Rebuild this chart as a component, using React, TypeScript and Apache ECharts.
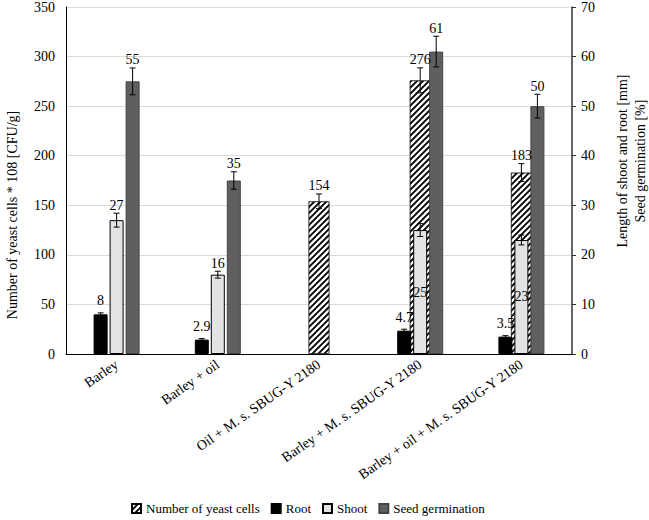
import React, { useEffect, useRef } from 'react';
import * as echarts from 'echarts';

const categories = [
  'Barley',
  'Barley + oil',
  'Oil + M. s. SBUG-Y 2180',
  'Barley + M. s. SBUG-Y 2180',
  'Barley + oil + M. s. SBUG-Y 2180',
];
const yeastCells: (number | null)[] = [null, null, 154, 276, 183];
const yeastErr: (number | null)[] = [null, null, 7.4, 12.6, 9];
const rootLen: (number | null)[] = [8, 2.9, null, 4.7, 3.5];
const rootErr: (number | null)[] = [0.3, 0.2, null, 0.3, 0.2];
const shootLen: (number | null)[] = [27, 16, null, 25, 23];
const shootErr: (number | null)[] = [1.4, 0.7, null, 1.3, 1.0];
const germination: (number | null)[] = [55, 35, null, 61, 50];
const germErr: (number | null)[] = [2.7, 1.75, null, 3.1, 2.4];
const shootInsideLabelIdx = [3, 4];

const leftAxis = { min: 0, max: 350, interval: 50 };
const rightAxis = { min: 0, max: 70, interval: 10 };

const leftTitle = 'Number of yeast cells * 108 [CFU/g]';
const rightTitle = 'Length of shoot and root [mm]\nSeed germination [%]';
const legendNames = ['Number of yeast cells', 'Root', 'Shoot', 'Seed germination'];

const FONT = '"Liberation Serif", "Times New Roman", serif';
const FS = 14;
const BAR_W = 14;
const GAP = 2;

function makeHatch(): HTMLCanvasElement {
  const c = document.createElement('canvas');
  const s = 6;
  c.width = s;
  c.height = s;
  const ctx = c.getContext('2d')!;
  ctx.fillStyle = '#ffffff';
  ctx.fillRect(0, 0, s, s);
  ctx.strokeStyle = '#000000';
  ctx.lineWidth = 1.9;
  ctx.beginPath();
  ctx.moveTo(-1, s + 1);
  ctx.lineTo(s + 1, -1);
  ctx.moveTo(-1, 1);
  ctx.lineTo(1, -1);
  ctx.moveTo(s - 1, s + 1);
  ctx.lineTo(s + 1, s - 1);
  ctx.stroke();
  return c;
}

function errorSeries(
  name: string,
  values: (number | null)[],
  errs: (number | null)[],
  xAxisIndex: number,
  yAxisIndex: number,
  offset: number,
  labelGap: number,
  hideLabel: number[]
) {
  const data: any[] = [];
  values.forEach((v, i) => {
    if (v != null) data.push([i, v, errs[i] ?? 0]);
  });
  return {
    name,
    type: 'custom',
    xAxisIndex,
    yAxisIndex,
    z: 5,
    silent: true,
    data,
    encode: { x: 0, y: 1 },
    renderItem: (params: any, api: any) => {
      const i = api.value(0);
      const v = api.value(1);
      const e = api.value(2);
      const c = api.coord([i, v]);
      const x = c[0] + offset;
      const yTop = api.coord([i, v + e])[1];
      const yBot = api.coord([i, v - e])[1];
      const cap = 3;
      const st = { stroke: '#000', lineWidth: 1 };
      const children: any[] = [
        { type: 'line', shape: { x1: x, y1: yTop, x2: x, y2: yBot }, style: st },
        { type: 'line', shape: { x1: x - cap, y1: yTop, x2: x + cap, y2: yTop }, style: st },
        { type: 'line', shape: { x1: x - cap, y1: yBot, x2: x + cap, y2: yBot }, style: st },
      ];
      if (hideLabel.indexOf(i) < 0) {
        children.push({
          type: 'text',
          x,
          y: yTop - labelGap,
          style: {
            text: String(v),
            align: 'center',
            verticalAlign: 'bottom',
            fontSize: FS,
            fontFamily: FONT,
            fill: '#000',
          },
        });
      }
      return { type: 'group', children };
    },
  };
}

export default function App() {
  const ref = useRef<HTMLDivElement>(null);
  useEffect(() => {
    if (!ref.current) return;
    const chart = echarts.init(ref.current, undefined, { renderer: 'svg' });
    const hatch = makeHatch();
    const hatchFill: any = { image: hatch, repeat: 'repeat', imageWidth: 6, imageHeight: 6 };
    const step = BAR_W + GAP;

    const shootData = shootLen.map((v, i) =>
      shootInsideLabelIdx.indexOf(i) >= 0
        ? {
            value: v,
            label: {
              show: true,
              position: 'inside',
              formatter: '{c}',
              fontSize: FS,
              fontFamily: FONT,
              color: '#000',
            },
          }
        : v
    );

    chart.setOption({
      animation: false,
      backgroundColor: '#ffffff',
      textStyle: { fontFamily: FONT },
      grid: { left: 66, right: 77, top: 7, bottom: 166, containLabel: false },
      legend: {
        data: legendNames,
        left: 131,
        top: 502,
        padding: 0,
        itemWidth: 9,
        itemHeight: 9,
        itemGap: 11,
        icon: 'rect',
        textStyle: { fontSize: 13, fontFamily: FONT, color: '#000' },
      },
      xAxis: [
        {
          type: 'category',
          data: categories,
          position: 'bottom',
          axisLine: { show: true, lineStyle: { color: '#000', width: 1 } },
          axisTick: { show: false },
          axisLabel: {
            interval: 0,
            rotate: 35,
            margin: 9,
            fontSize: FS,
            fontFamily: FONT,
            color: '#000',
          },
        },
        {
          type: 'category',
          data: categories,
          position: 'bottom',
          show: false,
        },
      ],
      yAxis: [
        {
          type: 'value',
          position: 'left',
          min: leftAxis.min,
          max: leftAxis.max,
          interval: leftAxis.interval,
          axisLine: { show: true, lineStyle: { color: '#000', width: 1 } },
          axisTick: { show: false },
          axisLabel: { margin: 11, fontSize: FS, fontFamily: FONT, color: '#000' },
          splitLine: { show: true, lineStyle: { color: '#d9d9d9', width: 1 } },
        },
        {
          type: 'value',
          position: 'right',
          min: rightAxis.min,
          max: rightAxis.max,
          interval: rightAxis.interval,
          axisLine: { show: true, lineStyle: { color: '#333', width: 1.5 } },
          axisTick: { show: true, inside: false, length: 4, lineStyle: { color: '#333' } },
          axisLabel: { margin: 9, fontSize: FS, fontFamily: FONT, color: '#000' },
          splitLine: { show: false },
        },
      ],
      graphic: [
        {
          type: 'text',
          x: 12,
          y: 215,
          rotation: Math.PI / 2,
          style: {
            text: leftTitle,
            align: 'center',
            verticalAlign: 'middle',
            fontSize: FS,
            fontFamily: FONT,
            fill: '#000',
          },
        },
        {
          type: 'text',
          x: 631,
          y: 161,
          rotation: Math.PI / 2,
          style: {
            text: rightTitle,
            align: 'center',
            verticalAlign: 'middle',
            fontSize: FS,
            lineHeight: 18,
            fontFamily: FONT,
            fill: '#000',
          },
        },
      ],
      series: [
        {
          name: 'Number of yeast cells',
          type: 'bar',
          xAxisIndex: 1,
          yAxisIndex: 0,
          barWidth: 21,
          z: 1,
          data: yeastCells,
          itemStyle: { color: hatchFill, borderColor: '#000', borderWidth: 0.8 },
        },
        {
          name: 'Root',
          type: 'bar',
          xAxisIndex: 0,
          yAxisIndex: 1,
          barWidth: BAR_W,
          barGap: `${(GAP / BAR_W) * 100}%`,
          z: 2,
          data: rootLen,
          itemStyle: { color: '#000000', borderColor: '#000', borderWidth: 1 },
        },
        {
          name: 'Shoot',
          type: 'bar',
          xAxisIndex: 0,
          yAxisIndex: 1,
          barWidth: BAR_W,
          barGap: `${(GAP / BAR_W) * 100}%`,
          z: 2,
          data: shootData,
          itemStyle: { color: '#e3e3e3', borderColor: '#000', borderWidth: 1 },
        },
        {
          name: 'Seed germination',
          type: 'bar',
          xAxisIndex: 0,
          yAxisIndex: 1,
          barWidth: BAR_W,
          barGap: `${(GAP / BAR_W) * 100}%`,
          z: 2,
          data: germination,
          itemStyle: { color: '#5f5f5f', borderColor: '#444', borderWidth: 1 },
        },
        errorSeries('err-yeast', yeastCells, yeastErr, 1, 0, 0, 1, []),
        errorSeries('err-root', rootLen, rootErr, 0, 1, -step, 5, []),
        errorSeries('err-shoot', shootLen, shootErr, 0, 1, 0, 1, shootInsideLabelIdx),
        errorSeries('err-germ', germination, germErr, 0, 1, step, 1, []),
      ],
    });
    return () => chart.dispose();
  }, []);
  return (
    <div
      ref={ref}
      style={{ position: 'fixed', left: 0, top: 0, width: 649, height: 520, background: '#fff' }}
    />
  );
}
